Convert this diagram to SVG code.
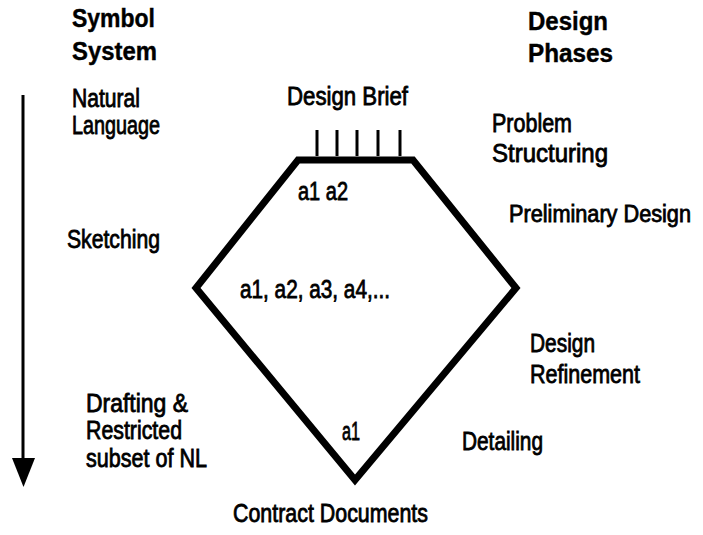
<svg xmlns="http://www.w3.org/2000/svg" width="703" height="535" viewBox="0 0 703 535">
<style>
text{font-family:"Liberation Sans",Arial,sans-serif;font-size:25px;fill:#000;stroke:#000;stroke-width:0.8}
.t{font-weight:bold;stroke-width:0.4}
.shape{fill:none;stroke:#000;stroke-width:7;stroke-linejoin:miter}
.tick{stroke:#000;stroke-width:3}
</style>
<g id="headers">
<text class="t" x="72" y="27" textLength="83" lengthAdjust="spacingAndGlyphs">Symbol</text>
<text class="t" x="72" y="60" textLength="85" lengthAdjust="spacingAndGlyphs">System</text>
<text class="t" x="528" y="30" textLength="80" lengthAdjust="spacingAndGlyphs">Design</text>
<text class="t" x="528" y="62" textLength="85" lengthAdjust="spacingAndGlyphs">Phases</text>
</g>
<g id="connectors">
<line x1="23" y1="95" x2="23" y2="460" stroke="#000" stroke-width="3"/>
<path d="M12,458 L35,458 L23.5,487 Z" fill="#000"/>
</g>
<g id="process">
<polygon class="shape" points="298,160 413,160 516,288 355,480 196,288"/>
<g id="brief-ticks">
<line class="tick" x1="317" y1="130" x2="317" y2="156"/>
<line class="tick" x1="337" y1="130" x2="337" y2="156"/>
<line class="tick" x1="357" y1="130" x2="357" y2="156"/>
<line class="tick" x1="378" y1="130" x2="378" y2="156"/>
<line class="tick" x1="400" y1="130" x2="400" y2="156"/>
</g>
</g>
<g id="symbol-labels">
<text x="72" y="107" textLength="68" lengthAdjust="spacingAndGlyphs">Natural</text>
<text x="72" y="134" textLength="88" lengthAdjust="spacingAndGlyphs">Language</text>
<text x="67" y="248" textLength="93" lengthAdjust="spacingAndGlyphs">Sketching</text>
<text x="86" y="412" textLength="102" lengthAdjust="spacingAndGlyphs">Drafting &amp;</text>
<text x="86" y="439" textLength="96" lengthAdjust="spacingAndGlyphs">Restricted</text>
<text x="86" y="467" textLength="121" lengthAdjust="spacingAndGlyphs">subset of NL</text>
</g>
<g id="phase-labels">
<text x="287" y="105" textLength="121" lengthAdjust="spacingAndGlyphs">Design Brief</text>
<text x="492" y="132" textLength="80" lengthAdjust="spacingAndGlyphs">Problem</text>
<text x="492" y="162" textLength="116" lengthAdjust="spacingAndGlyphs">Structuring</text>
<text x="509" y="222" style="font-size:23px" textLength="182" lengthAdjust="spacingAndGlyphs">Preliminary Design</text>
<text x="530" y="352" textLength="65" lengthAdjust="spacingAndGlyphs">Design</text>
<text x="530" y="383" textLength="110" lengthAdjust="spacingAndGlyphs">Refinement</text>
<text x="462" y="450" textLength="81" lengthAdjust="spacingAndGlyphs">Detailing</text>
<text x="233" y="522" textLength="195" lengthAdjust="spacingAndGlyphs">Contract Documents</text>
</g>
<g id="alternatives">
<text x="298" y="200" textLength="50" lengthAdjust="spacingAndGlyphs">a1 a2</text>
<text x="240" y="298" textLength="150" lengthAdjust="spacingAndGlyphs">a1, a2, a3, a4,...</text>
<text x="342" y="440" textLength="18" lengthAdjust="spacingAndGlyphs">a1</text>
</g>
</svg>
